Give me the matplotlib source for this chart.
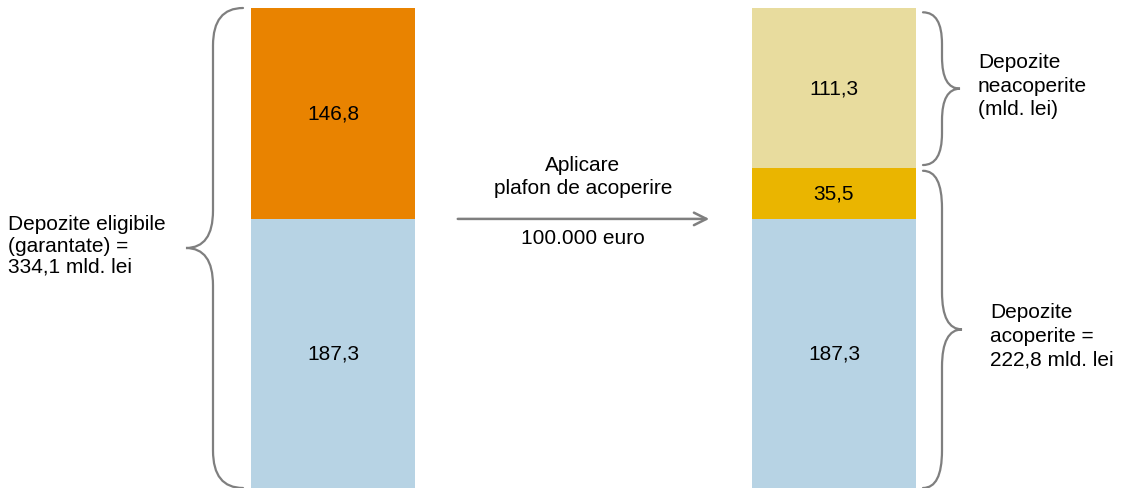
import matplotlib
matplotlib.use("Agg")
import matplotlib.pyplot as plt
from matplotlib.path import Path
from matplotlib.patches import PathPatch

plt.rcParams["font.family"] = ["Liberation Sans", "DejaVu Sans"]

# Data (mld. lei)
eligible_parts = [187.3, 146.8]          # acoperite (sub plafon), peste plafon
eligible_colors = ["#B7D3E4", "#E98300"]
covered_parts = [187.3, 35.5, 111.3]     # acoperite, acoperite (parte), neacoperite
covered_colors = ["#B7D3E4", "#EAB500", "#E8DC9E"]
total_eligible = sum(eligible_parts)
total_covered = covered_parts[0] + covered_parts[1]

GRAY = "#7F7F7F"
FS = 15


def fmt(v):
    return f"{v:.1f}".replace(".", ",")


def brace(ax, y0, y1, x_end, x_mid, x_tip, r):
    ym = (y0 + y1) / 2
    verts = [(x_end, y1), (x_mid, y1), (x_mid, y1 - r),
             (x_mid, ym + r), (x_mid, ym), (x_tip, ym),
             (x_mid, ym), (x_mid, ym - r),
             (x_mid, y0 + r), (x_mid, y0), (x_end, y0)]
    codes = [Path.MOVETO, Path.CURVE3, Path.CURVE3,
             Path.LINETO, Path.CURVE3, Path.CURVE3,
             Path.CURVE3, Path.CURVE3,
             Path.LINETO, Path.CURVE3, Path.CURVE3]
    ax.add_patch(PathPatch(Path(verts, codes), fill=False, edgecolor=GRAY,
                           linewidth=1.6, capstyle="round"))


fig = plt.figure(figsize=(11.21, 4.89), dpi=100)
ax = fig.add_axes([0, 0, 1, 1])
ax.set_xlim(0, 1121)
ax.set_ylim(0, total_eligible * 489 / 480)
ax.axis("off")

# left bar
x_left, x_right, w = 333, 834, 164
bottom = 0
for v, c in zip(eligible_parts, eligible_colors):
    ax.bar(x_left, v, width=w, bottom=bottom, color=c, linewidth=0)
    ax.text(x_left, bottom + v / 2, fmt(v), ha="center", va="center", fontsize=FS)
    bottom += v

# right bar
bottom = 0
for v, c in zip(covered_parts, covered_colors):
    ax.bar(x_right, v, width=w, bottom=bottom, color=c, linewidth=0)
    ax.text(x_right, bottom + v / 2, fmt(v), ha="center", va="center", fontsize=FS)
    bottom += v

# braces
brace(ax, 0, total_eligible, 243, 213, 186, 26)
brace(ax, total_covered + 2, total_eligible - 3, 923, 942, 960, 22)
brace(ax, 0, total_covered - 2, 923, 942, 962, 26)

ax.text(8, total_eligible / 2 + 2, "Depozite eligibile\n(garantate) =\n"
        f"{fmt(total_eligible)} mld. lei", ha="left", va="center",
        fontsize=FS, linespacing=1.15)
ax.text(978, (total_covered + total_eligible) / 2 + 2,
        "Depozite\nneacoperite\n(mld. lei)", ha="left", va="center",
        fontsize=FS, linespacing=1.3)
ax.text(990, total_covered / 2 - 5,
        f"Depozite\nacoperite =\n{fmt(total_covered)} mld. lei",
        ha="left", va="center", fontsize=FS, linespacing=1.3)

# arrow
y_arrow = eligible_parts[0]
ax.annotate("", xy=(712, y_arrow), xytext=(455, y_arrow),
            arrowprops=dict(arrowstyle="->,head_length=0.9,head_width=0.45",
                            color=GRAY, linewidth=1.8))
ax.text(583, y_arrow + 15, "Aplicare\nplafon de acoperire", ha="center",
        va="bottom", fontsize=FS, linespacing=1.3)
ax.text(583, y_arrow - 6, "100.000 euro", ha="center", va="top", fontsize=FS)

fig.savefig("out.png", dpi=100)
